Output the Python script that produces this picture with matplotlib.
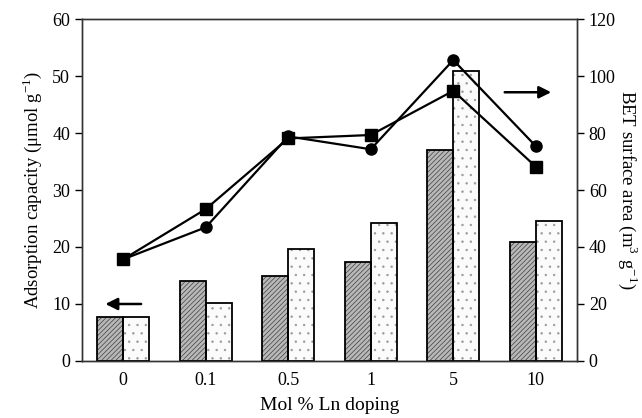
import matplotlib
matplotlib.use("Agg")
import matplotlib.pyplot as plt
import numpy as np

categories = ["0", "0.1", "0.5", "1", "5", "10"]
ads_hatched = [7.8, 14.0, 14.9, 17.4, 37.1, 20.9]
ads_dotted = [7.8, 10.1, 19.7, 24.2, 50.8, 24.5]
bet_circle = [35.7, 46.9, 78.8, 74.3, 105.6, 75.4]
bet_square = [35.7, 53.3, 78.1, 79.3, 94.8, 68.2]

plt.rcParams['font.family'] = ['Liberation Serif', 'DejaVu Serif']
plt.rcParams['mathtext.fontset'] = 'stix'
plt.rcParams['hatch.linewidth'] = 0.5

fig = plt.figure(figsize=(6.42, 4.18), dpi=100)
ax = fig.add_axes([0.1277, 0.1364, 0.7711, 0.8181])
x = np.arange(len(categories))
w = 0.315

ax.bar(x - w/2, ads_hatched, width=w, facecolor='#b8b8b8', edgecolor='#404040',
       linewidth=0, hatch='///////', zorder=2)
ax.bar(x + w/2, ads_dotted, width=w, facecolor='#fbfbfb', edgecolor='#9a9a9a',
       linewidth=0, hatch='..', zorder=2)
for xi, h in zip(x - w/2, ads_hatched):
    ax.add_patch(plt.Rectangle((xi - w/2, 0), w, h, fill=False, edgecolor='black', linewidth=1.3, zorder=3))
for xi, h in zip(x + w/2, ads_dotted):
    ax.add_patch(plt.Rectangle((xi - w/2, 0), w, h, fill=False, edgecolor='black', linewidth=1.3, zorder=3))

ax.set_xlim(-0.5, 5.5)
ax.set_ylim(0, 60)
ax.set_yticks([0, 10, 20, 30, 40, 50, 60])
ax.set_xticks(x)
ax.set_xticklabels(categories)
ax.tick_params(axis='x', length=0, labelsize=13, pad=8)
ax.tick_params(axis='y', direction='out', length=5, width=1, labelsize=13)
ax.set_xlabel("Mol % Ln doping", fontsize=14, labelpad=6)
ax.set_ylabel("Adsorption capacity (μmol g$^{\\mathregular{-1}}$)", fontsize=13.5, labelpad=6)
for s in ax.spines.values():
    s.set_linewidth(1.0)
    s.set_color('#333333')

ax2 = ax.twinx()
ax2.set_ylim(0, 120)
ax2.set_yticks([0, 20, 40, 60, 80, 100, 120])
ax2.plot(x, bet_circle, color='black', linewidth=1.6, marker='o', markersize=8, zorder=5)
ax2.plot(x, bet_square, color='black', linewidth=1.6, marker='s', markersize=8, zorder=5)
ax2.tick_params(axis='y', direction='out', length=5, width=1, labelsize=13)
ax2.set_ylabel("BET surface area (m$^{\\mathregular{3}}$ g$^{\\mathregular{-1}}$)", fontsize=13.5,
               rotation=270, labelpad=17)
for s in ax2.spines.values():
    s.set_linewidth(1.0)
    s.set_color('#333333')

ax.annotate("", xy=(-0.25, 10), xytext=(0.25, 10),
            arrowprops=dict(arrowstyle='-|>', color='black', lw=1.8, mutation_scale=18), zorder=6)
ax2.annotate("", xy=(5.22, 94.3), xytext=(4.59, 94.3),
             arrowprops=dict(arrowstyle='-|>', color='black', lw=1.8, mutation_scale=18))

fig.savefig("out.png", dpi=100)
